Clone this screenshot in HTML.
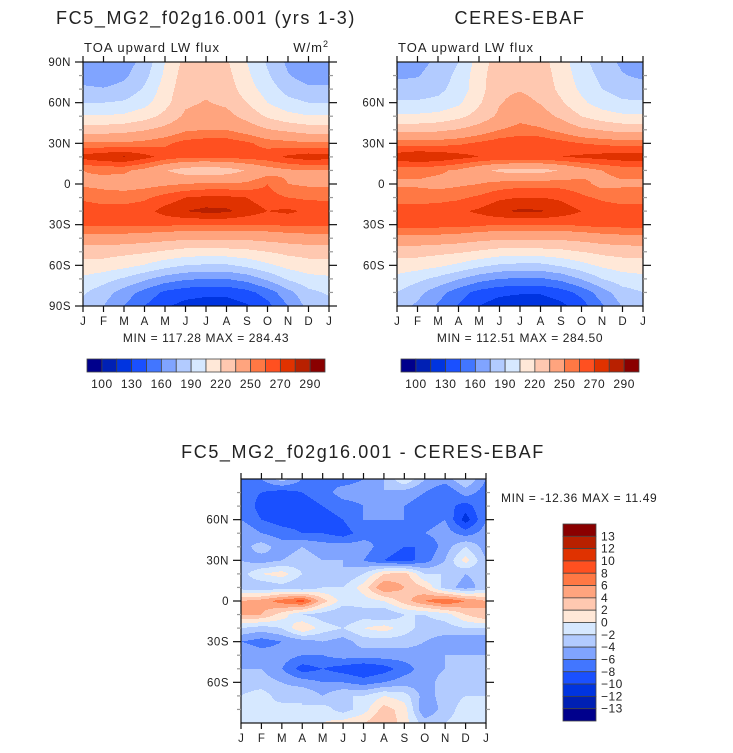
<!DOCTYPE html>
<html><head><meta charset="utf-8">
<style>
body{margin:0;background:#fff;}
svg{display:block;font-family:"Liberation Sans",sans-serif;}
</style></head>
<body>
<svg id="fig" width="733" height="753" viewBox="0 0 733 753" xmlns="http://www.w3.org/2000/svg"></svg>
<script>
// ---- data ----
const months = ["J","F","M","A","M","J","J","A","S","O","N","D","J"];
const lats = [90,80,70,60,50,40,30,20,10,0,-10,-20,-30,-40,-50,-60,-70,-80,-90];
const fluxLevels = [100,115,130,145,160,175,190,205,220,235,250,260,270,280,290];
const fluxLabels = ["100","130","160","190","220","250","270","290"];
const diffLevels = [-13,-12,-10,-8,-6,-4,-2,0,2,4,6,8,10,12,13];
const diffLabels = ["13","12","10","8","6","4","2","0","\u22122","\u22124","\u22126","\u22128","\u221210","\u221212","\u221213"];
const model = [
[165,163,168,180,205,225,228,222,205,188,172,165,165],
[168,166,172,185,208,228,230,225,208,192,176,168,168],
[178,176,180,192,212,230,232,228,212,198,184,178,178],
[190,190,192,200,215,232,236,232,220,205,195,190,190],
[206,206,208,214,224,238,242,240,230,218,210,206,206],
[228,228,230,234,240,248,250,250,244,236,232,228,228],
[252,252,252,254,258,264,266,266,262,256,254,252,252],
[274,278,281,274,266,262,262,263,264,266,272,276,274],
[250,252,252,246,236,228,226,228,236,244,248,250,250],
[248,246,244,246,248,250,252,252,252,260,250,248,248],
[258,256,256,258,264,270,272,272,270,264,260,258,258],
[266,264,264,266,274,280,283,282,276,270,272,268,266],
[262,262,262,262,262,260,260,260,260,260,262,262,262],
[245,245,244,242,240,238,238,238,238,240,242,244,245],
[226,226,224,222,218,214,213,214,216,220,224,226,226],
[215,214,210,204,196,190,188,188,194,202,210,214,215],
[202,196,188,178,168,162,160,160,166,178,192,200,202],
[192,182,168,155,142,136,134,134,140,152,170,186,192],
[185,175,160,145,132,125,122,122,128,140,160,180,185]];
const ceres = [
[168,170,178,190,212,228,230,226,212,195,182,172,168],
[172,174,182,194,214,230,232,228,214,198,186,176,172],
[182,182,186,196,214,232,234,230,216,202,190,184,182],
[192,192,194,202,218,234,240,234,222,208,198,192,192],
[208,208,210,216,226,238,246,242,232,220,212,208,208],
[230,230,232,236,242,250,254,252,246,238,234,230,230],
[256,256,256,258,262,266,268,268,264,260,258,256,256],
[276,280,278,274,270,268,268,268,270,272,274,276,276],
[254,254,252,248,240,232,230,230,236,244,250,254,254],
[248,248,246,248,250,254,256,256,256,254,246,248,248],
[256,256,256,258,262,268,270,270,268,262,258,256,256],
[264,264,266,268,272,278,282,281,276,270,266,264,264],
[264,264,264,264,262,260,260,260,260,262,264,264,264],
[246,246,245,243,240,238,238,238,238,240,243,245,246],
[226,226,224,222,218,214,213,214,216,220,224,226,226],
[214,212,208,202,194,188,186,186,192,200,208,212,214],
[200,194,186,176,166,160,158,158,164,176,190,198,200],
[190,180,166,152,140,134,132,132,138,150,168,184,190],
[182,172,158,144,130,122,118,118,126,138,158,176,182]];
const diff = [
[-6,-6,-3,-6,-6,-7,-6,-4,0,-4,-5,-2,-6],
[-7,-8,-9,-8,-7,-5,-5,-4,-5,-6,-8,-5,-7],
[-6,-9,-9,-9,-8,-7,-6,-5,-6,-7,-7,-9,-6],
[-6,-8,-9,-9,-9,-8,-6,-6,-6,-7,-6,-11,-6],
[-4,-6,-7,-8,-8,-9,-7,-6,-7,-6,-5,-7,-5],
[-5,-3,-5,-4,-5,-5,-5,-7,-8,-8,-5,-2,-5],
[-4,-5,-4,-3,-4,-4,-6,-8,-9,-7,-4,1,-4],
[-3,0,1,-2,-3,-4,-2,2,3,-2,-2,-4,-3],
[-3,-4,-3,-4,-2,-2,1,6,4,2,-3,-5,-3],
[4,5,7,9,3,-1,-1,0,3,6,8,6,4],
[4,4,1,-2,-3,-4,-3,-4,-2,-2,-1,2,4],
[-2,-3,-2,2,-1,-2,0,1,-1,-3,-3,-2,-2],
[-6,-7,-6,-5,-4,-5,-3,-3,-3,-4,-5,-6,-6],
[-4,-5,-5,-6,-6,-5,-5,-5,-5,-5,-4,-4,-4],
[-4,-4,-6,-9,-8,-9,-10,-9,-7,-5,-4,-4,-4],
[-3,-3,-4,-5,-6,-6,-7,-6,-5,-5,-3,-3,-3],
[-2,-1,-3,-2,-4,-2,-2,0,-1,-5,-3,-2,-2],
[-1,-2,-1,-2,-1,-3,-1,3,1,-6,-3,-1,-1],
[-2,-1,-2,-2,0,1,2,4,1,-3,-2,-1,-2]];
const palette = ["#00008c","#0020b4","#0034e0","#1a50ff","#4276ff","#80a4ff","#b2cbff","#d6e8ff","#ffe8d8","#ffc8b0","#ffa47e","#ff7844","#ff5020","#e03200","#b82000","#8a0000"];

const NS="http://www.w3.org/2000/svg";
const fig=document.getElementById('fig');
function mk(tag,attrs,parent){const e=document.createElementNS(NS,tag);for(const k in attrs)e.setAttribute(k,attrs[k]);(parent||fig).appendChild(e);return e;}
function txt(s,x,y,size,anchor,parent,ls){const t=mk('text',{x:x,y:y,'font-size':size,'text-anchor':anchor||'start',fill:'#222','letter-spacing':ls||0},parent);t.textContent=s;return t;}
function levelIndex(v,levels){let i=0;while(i<levels.length&&v>=levels[i])i++;return i;}

function drawField(name,grid,levels,x0,y0,w,h,labelsAll){
  const g=mk('g',{});
  
  
  const xs=d=>x0+d/(months.length-1)*w;
  const ys=l=>y0+(90-l)/180*h;
  const nR=lats.length,nC=months.length;
  for(let py=0;py<h;py++){
    const lat=90-(py+0.5)/h*180;
    let fr=(90-lat)/180*(nR-1);let r0=Math.min(nR-2,Math.floor(fr));let tr=fr-r0;
    let runStart=0,runLev=-1;
    for(let px=0;px<=w;px++){
      let lev=-2;
      if(px<w){
        let fc=(px+0.5)/w*(nC-1);let c0=Math.min(nC-2,Math.floor(fc));let tc=fc-c0;
        const v=(1-tr)*((1-tc)*grid[r0][c0]+tc*grid[r0][c0+1])+tr*((1-tc)*grid[r0+1][c0]+tc*grid[r0+1][c0+1]);
        lev=levelIndex(v,levels);
      }
      if(lev!==runLev){
        if(runLev>=0){
          const rc=mk('rect',{x:x0+runStart,y:y0+py,width:px-runStart,height:1.05,fill:palette[runLev]},g);
          
          
        }
        runStart=px;runLev=lev;
      }
    }
  }
  const fr=mk('rect',{x:x0,y:y0,width:w,height:h,fill:'none',stroke:'#111','stroke-width':1.2});
  
  
  for(let i=0;i<nC;i++){
    const x=xs(i);
    mk('line',{x1:x,y1:y0,x2:x,y2:y0-6,stroke:'#111','stroke-width':1.2});
    mk('line',{x1:x,y1:y0+h,x2:x,y2:y0+h+6,stroke:'#111','stroke-width':1.2});
    const t=txt(months[i],x,y0+h+19,11.5,'middle');
    
    
  }
  for(let l=-80;l<=80;l+=10){
    const y=ys(l);
    const major=l%30===0;
    const col=major?'#111':'#999',len=major?8:4;
    mk('line',{x1:x0,y1:y,x2:x0-len,y2:y,stroke:col,'stroke-width':1.2});
    mk('line',{x1:x0+w,y1:y,x2:x0+w+len,y2:y,stroke:col,'stroke-width':1.2});
  }
  const yl=labelsAll?[90,60,30,0,-30,-60,-90]:[60,30,0,-30,-60];
  yl.forEach(l=>{
    const s=l===0?'0':(Math.abs(l)+(l>0?'N':'S'));
    const t=txt(s,x0-12,ys(l)+4,11.5,'end',null,0.5);
    
    
    if(Math.abs(l)===90){mk('line',{x1:x0,y1:ys(l),x2:x0-8,y2:ys(l),stroke:'#111','stroke-width':1.2});mk('line',{x1:x0+w,y1:ys(l),x2:x0+w+8,y2:ys(l),stroke:'#111','stroke-width':1.2});}
  });
}

function hColorbar(name,x0,y0,w,h,labels){
  const g=mk('g',{});
  
  
  const n=palette.length,bw=w/n;
  for(let i=0;i<n;i++){
    const r=mk('rect',{x:x0+i*bw,y:y0,width:bw,height:h,fill:palette[i],stroke:'#444','stroke-width':0.8},g);
    
    
  }
  labels.forEach((s,k)=>{const t=txt(s,x0+(1+2*k)*bw,y0+h+16,12,'middle',g,0.5);
    
    });
}
function vColorbar(name,x0,y0,w,h,labels){
  const g=mk('g',{});
  
  
  const n=palette.length,bh=h/n;
  for(let i=0;i<n;i++){
    const r=mk('rect',{x:x0,y:y0+i*bh,width:w,height:bh,fill:palette[n-1-i],stroke:'#444','stroke-width':0.8},g);
    
    
  }
  labels.forEach((s,k)=>{const t=txt(s,x0+w+5,y0+(k+1)*bh+4,12,'start',g,0.5);
    
    });
}

drawField('model-panel',model,fluxLevels,83,62,246,244,true);
drawField('ceres-panel',ceres,fluxLevels,397,62,246,244,false);
drawField('diff-panel',diff,diffLevels,241,479,245,244,false);

let t;
t=txt('FC5_MG2_f02g16.001 (yrs 1-3)',206,24,18,'middle',null,1.6);

t=txt('TOA upward LW flux',84,52,13,'start',null,1);

t=mk('text',{x:329,y:52,'font-size':13,'text-anchor':'end',fill:'#222','letter-spacing':1});
t.innerHTML='W/m<tspan font-size="9" dy="-5">2</tspan>';

t=txt('CERES-EBAF',520,24,18,'middle',null,1.6);

t=txt('TOA upward LW flux',398,52,13,'start',null,1);

t=txt('MIN = 117.28 MAX = 284.43',206,342,12,'middle',null,0.6);

t=txt('MIN = 112.51 MAX = 284.50',520,342,12,'middle',null,0.6);

hColorbar('model-colorbar',87,359,238,13,fluxLabels);
hColorbar('ceres-colorbar',401,359,238,13,fluxLabels);
t=txt('FC5_MG2_f02g16.001 - CERES-EBAF',363,458,18,'middle',null,1.6);

t=txt('MIN = -12.36 MAX =  11.49',501,502,12,'start',null,0.6);

vColorbar('diff-colorbar',563,524,33,197,diffLabels);
</script>
</body></html>
